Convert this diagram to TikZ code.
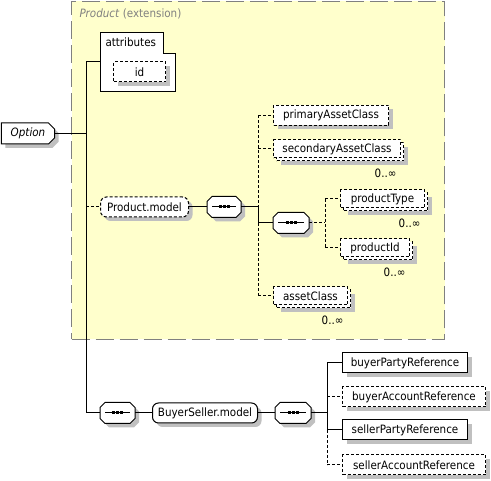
\documentclass[tikz,border=0pt]{standalone}
\usepackage{fontspec}
\setmainfont{DejaVu Sans Condensed}
\usetikzlibrary{shapes.misc,shadows,positioning,calc}

\definecolor{extfill}{HTML}{FFFFCC}
\definecolor{extline}{HTML}{808080}
\definecolor{shade}{HTML}{C0C0C0}

% sequence compositor drawn round a placeholder node
\newcommand\seqshape[1]{%
  \draw[fill=white, shad] ([xshift=5pt]#1.north west) -- ([xshift=-5pt]#1.north east)
    -- ([yshift=-5pt]#1.north east) -- ([yshift=5pt]#1.south east)
    -- ([xshift=-5pt]#1.south east) -- ([xshift=5pt]#1.south west)
    -- ([yshift=5pt]#1.south west) -- ([yshift=-5pt]#1.north west) -- cycle;
  \draw ([xshift=5pt]#1.west) -- ([xshift=-5pt]#1.east);
  \foreach \d in {-4,0,4}
    \fill ([xshift=\d pt-1.5pt,yshift=-1.5pt]#1.center) rectangle ([xshift=\d pt+1.5pt,yshift=1.5pt]#1.center);
}

\begin{document}
\begin{tikzpicture}[
  x=1pt, y=-1pt, line width=1pt,
  every node/.style={inner sep=0pt, font=\fontsize{11.5}{13}\selectfont},
  dsh/.style={dash pattern=on 3pt off 2pt},
  shad/.style={drop shadow={shadow xshift=4pt, shadow yshift=-4pt, opacity=1, fill=shade}},
  elem/.style={draw, fill=white, minimum height=20pt, anchor=west, shad},
  oelem/.style={elem, dsh},
  melem/.style={draw, fill=white, dsh, minimum height=18pt, anchor=west,
    drop shadow={shadow xshift=7pt, shadow yshift=-7pt, opacity=1, fill=shade},
    general shadow={shadow xshift=3pt, shadow yshift=-3pt, draw=black, fill=white, dsh}},
  grp/.style={elem, rounded corners=6pt},
  ogrp/.style={grp, dsh},
  seqbox/.style={minimum height=20pt, anchor=west},
  optn/.style={chamfered rectangle, chamfered rectangle sep=3pt,
    chamfered rectangle corners={north east,south east}, draw, fill=white, anchor=west, shad},
  ext/.style={draw=extline, fill=extfill, dash pattern=on 18pt off 6pt, anchor=north west},
  card/.style={anchor=north east}
]
\useasboundingbox (0,0) rectangle (491,481);

% --- extension area ---
\node[ext, minimum width=373pt, minimum height=338pt] (ext) at (71,1) {};
\node[anchor=west, text=extline] (extlbl) at (79,14) {\textit{Product} (extension)};

% attributes
\draw[fill=white] (100,33) -- (163,33) -- (163,54) -- (175,54) -- (175,92) -- (100,92) -- cycle;
\node[anchor=north west] (attr) at (105,37) {attributes};
\coordinate (attrin) at (100,62);
\node[oelem, minimum width=52pt] (id) at (113,72) {id};

% root
\node[optn, minimum width=53pt, minimum height=21pt] (opt) at (1,133.5) {\textit{Option}};
\coordinate (tr) at (86,133.5);

% Product.model
\node[ogrp, minimum width=88pt] (pmod) at (100,207) {Product.model};
\node[seqbox, minimum width=33pt] (seqA) at (207,207) {};
\node[oelem, minimum width=115pt] (prim) at (273,115.5) {primaryAssetClass};
\node[melem, minimum width=127pt] (sec) at (273,149) {secondaryAssetClass};
\node[seqbox, minimum width=35pt] (seqC) at (273,223) {};
\node[melem, minimum width=84pt] (ptype) at (340,199) {productType};
\node[melem, minimum width=69pt] (pid) at (340,248) {productId};
\node[melem, minimum width=74pt] (asset) at (273,296) {assetClass};
\foreach \n in {sec,ptype,pid,asset}
  \node[card] (\n m) at ([xshift=-4pt,yshift=-10pt]\n.south east) {0..∞};

% BuyerSeller.model
\node[seqbox, minimum width=34pt] (seqB) at (100,413) {};
\node[grp, minimum width=105pt] (bsmod) at (152,413) {BuyerSeller.model};
\node[seqbox, minimum width=35pt] (seqD) at (275,413) {};
\node[elem, minimum width=125pt] (bpr) at (342,363) {buyerPartyReference};
\node[oelem, minimum width=143pt] (bar) at (342,397) {buyerAccountReference};
\node[elem, minimum width=125pt] (spr) at (342,430) {sellerPartyReference};
\node[oelem, minimum width=143pt] (sar) at (342,465) {sellerAccountReference};

\foreach \n in {seqA,seqB,seqC,seqD}
  \seqshape{\n};

% --- connectors ---
\draw (opt.east) -- (tr);
\draw (tr |- attrin) -- (tr |- seqB.west);
\draw (tr |- attrin) -- (attrin);
\draw[dsh] (tr |- pmod.west) -- (pmod.west);
\draw (tr |- seqB.west) -- (seqB.west);

\draw (pmod.east) -- (seqA.west);
\coordinate (ja) at (258,207);
\draw (seqA.east) -- (ja);
\draw[dsh] (ja |- prim.west) -- (ja);
\draw (ja) -- (ja |- seqC.west);
\draw[dsh] (ja |- seqC.west) -- (ja |- asset.west);
\foreach \n in {prim,sec,asset}
  \draw[dsh] (ja |- \n.west) -- (\n.west);
\draw (ja |- seqC.west) -- (seqC.west);

\coordinate (jc) at (325,223);
\draw[dsh] (seqC.east) -- (jc);
\draw[dsh] (jc |- ptype.west) -- (jc |- pid.west);
\foreach \n in {ptype,pid}
  \draw[dsh] (jc |- \n.west) -- (\n.west);

\draw (seqB.east) -- (bsmod.west);
\draw (bsmod.east) -- (seqD.west);
\coordinate (jd) at (327,413);
\draw (seqD.east) -- (jd);
\draw (jd |- bpr.west) -- (jd |- spr.west);
\draw[dsh] (jd |- spr.west) -- (jd |- sar.west);
\foreach \n in {bpr,spr}
  \draw (jd |- \n.west) -- (\n.west);
\foreach \n in {bar,sar}
  \draw[dsh] (jd |- \n.west) -- (\n.west);

\end{tikzpicture}
\end{document}
